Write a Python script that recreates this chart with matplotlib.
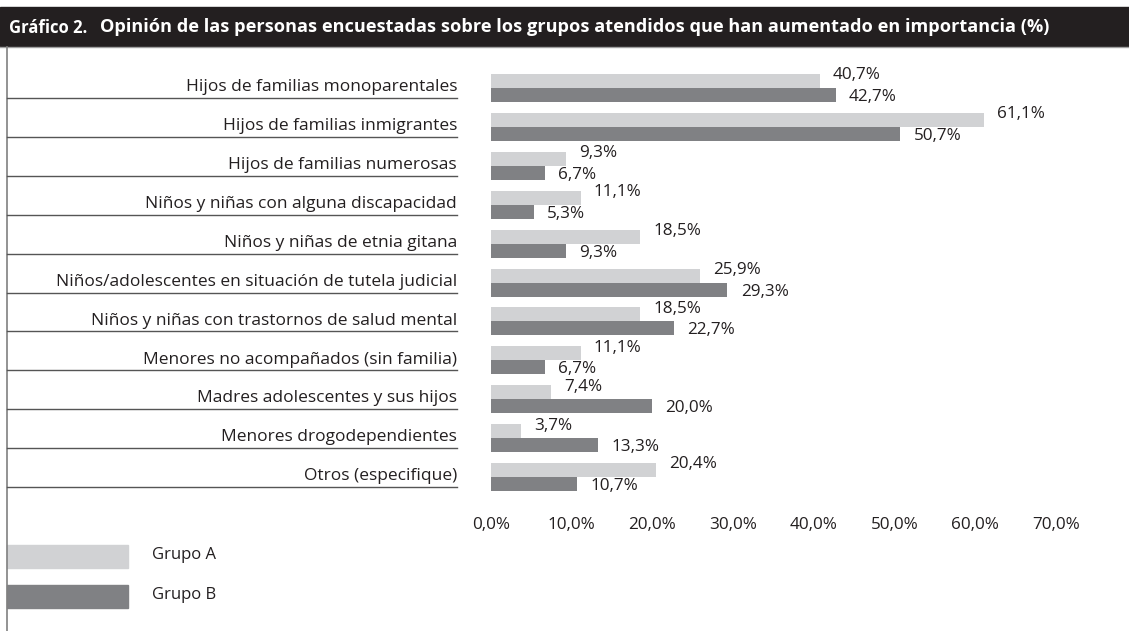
import matplotlib.pyplot as plt
import matplotlib.transforms as mtransforms
from matplotlib.patches import Rectangle
from matplotlib.lines import Line2D
import numpy as np

# ── DATA ──────────────────────────────────────────────────────────────────────
categorias = [
    "Hijos de familias monoparentales",
    "Hijos de familias inmigrantes",
    "Hijos de familias numerosas",
    "Niños y niñas con alguna discapacidad",
    "Niños y niñas de etnia gitana",
    "Niños/adolescentes en situación de tutela judicial",
    "Niños y niñas con trastornos de salud mental",
    "Menores no acompañados (sin familia)",
    "Madres adolescentes y sus hijos",
    "Menores drogodependientes",
    "Otros (especifique)",
]
grupo_a = [40.7, 61.1, 9.3, 11.1, 18.5, 25.9, 18.5, 11.1, 7.4, 3.7, 20.4]
grupo_b = [42.7, 50.7, 6.7, 5.3, 9.3, 29.3, 22.7, 6.7, 20.0, 13.3, 10.7]
xticks = [0, 10, 20, 30, 40, 50, 60, 70]
series_names = ["Grupo A", "Grupo B"]
# ─────────────────────────────────────────────────────────────────────────────

W, H = 1129, 631
LIGHT = "#d1d2d4"
DARK = "#808184"
TXT = "#231f20"
FONT = "Open Sans"

plt.rcParams["font.family"] = [FONT, "DejaVu Sans"]

fig = plt.figure(figsize=(W / 100, H / 100), dpi=100)


def px(x, y):
    # pixel coords (top-left origin) -> figure fraction
    return x / W, 1 - y / H


def pct(v):
    return f"{v:.1f}%".replace(".", ",")


# title bar
fig.patches.append(Rectangle(px(0, 46), 1, 39 / H, transform=fig.transFigure,
                             color="#231f20", zorder=0))
fig.text(*px(9, 28), "Gráfico 2.", color="white", fontsize=12,
         fontweight="bold", va="center", ha="left")
fig.text(*px(100, 27), "Opinión de las personas encuestadas sobre los grupos "
         "atendidos que han aumentado en importancia (%)",
         color="white", fontsize=13.1, fontweight="bold", va="center", ha="left")
fig.lines.append(Line2D([0, 1], [1 - 47 / H] * 2, transform=fig.transFigure,
                        color="#a0a0a0", lw=1))
# left border
fig.lines.append(Line2D([7 / W] * 2, [0, 1 - 47 / H], transform=fig.transFigure,
                        color="#808080", lw=1.2))

# bar axes
n = len(categorias)
row_h = 38.9
top = 88 - row_h / 2
bottom = 477 + row_h / 2
ax = fig.add_axes([491 / W, 1 - bottom / H, 565 / W, (bottom - top) / H])
ax.set_xlim(0, 70)
ax.set_ylim(n - 0.5, -0.5)

y = np.arange(n)
bh = 14 / row_h
ax.barh(y - bh / 2, grupo_a, height=bh, color=LIGHT, label=series_names[0])
ax.barh(y + bh / 2, grupo_b, height=bh, color=DARK, label=series_names[1])

for i in range(n):
    ax.annotate(pct(grupo_a[i]), (grupo_a[i], y[i] - bh / 2),
                xytext=(9.5, 4), textcoords="offset points", fontsize=12.3,
                color=TXT, va="center", ha="left")
    ax.annotate(pct(grupo_b[i]), (grupo_b[i], y[i] + bh / 2),
                xytext=(9.5, -1.5), textcoords="offset points", fontsize=12.3,
                color=TXT, va="center", ha="left")

ax.set_xticks(xticks)
ax.set_xticklabels([pct(t) for t in xticks], fontsize=12.3, color=TXT)
ax.tick_params(axis="x", length=0, pad=15)
ax.set_yticks([])
for s in ax.spines.values():
    s.set_visible(False)

# category labels with underline rules
trans = mtransforms.blended_transform_factory(fig.transFigure, ax.transData)
for i, cat in enumerate(categorias):
    fig.text(457 / W, i - 0.02, cat, transform=trans, ha="right", va="center",
             fontsize=12.5, color=TXT)
    fig.lines.append(Line2D([7 / W, 457 / W], [i + 10 / row_h] * 2,
                            transform=trans, color="#555555", lw=1))

# legend
for k, (name, col) in enumerate(zip(series_names, [LIGHT, DARK])):
    yc = 556 + 40 * k
    fig.patches.append(Rectangle(px(7, yc + 12), 121 / W, 23 / H,
                                 transform=fig.transFigure, color=col))
    fig.text(*px(152, yc - 1), name, fontsize=12, color=TXT, va="center", ha="left")

fig.savefig("out.png", dpi=100)
